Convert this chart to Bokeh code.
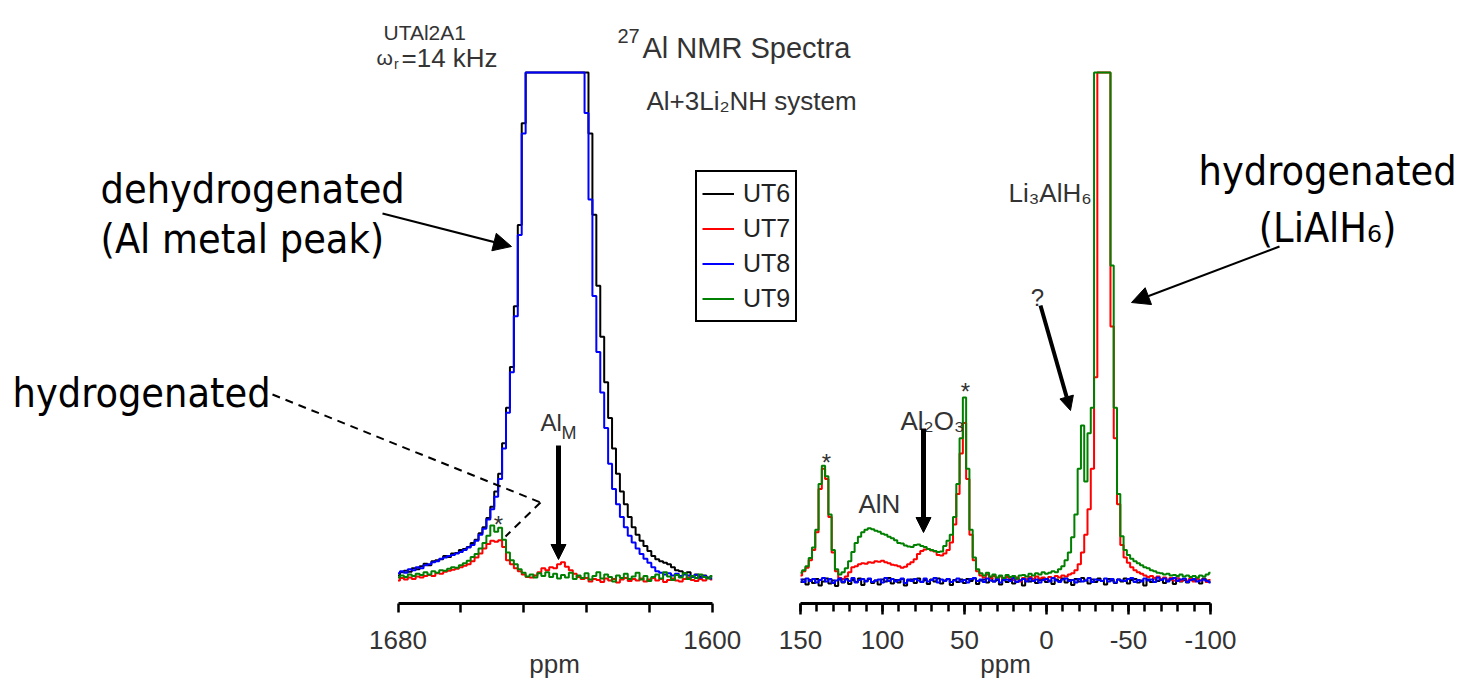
from bokeh.plotting import figure
from bokeh.models import (Range1d, LinearAxis, FixedTicker, Legend, LegendItem,
                          Label, Arrow, NormalHead)
from bokeh.embed import file_html
from bokeh.resources import INLINE

# ---------------- data ----------------
series_names = ["UT6", "UT7", "UT8", "UT9"]
series_colors = ["#000000", "#ff0000", "#0000ff", "#008000"]

# left panel: Al metal region, 1680 -> 1600 ppm
ppm_left = list(range(1680, 1599, -1))
ut6_left = [1.0, 1.6, 1.9, 1.7, 2.4, 2.2, 2.8, 3.3, 3.0, 3.8,
            4.0, 4.2, 4.8, 4.6, 5.3, 5.4, 6.0, 6.2, 6.6, 7.4,
            8.0, 9.3, 10.5, 12.3, 14.5, 17.5, 21.0, 27.0, 34.0, 42.0,
            54.0, 70.0, 90.0, 100, 100, 100, 100, 100, 100, 100,
            100, 100, 100, 100, 100, 100, 100, 100, 100, 88.0,
            72.0, 58.0, 48.0, 39.0, 32.0, 26.0, 21.0, 17.5, 15.0, 12.5,
            10.5, 9.0, 7.8, 6.8, 5.8, 4.8, 4.2, 3.8, 3.5, 3.2,
            2.6, 2.0, 1.8, 1.4, 1.6, 0.9, 1.2, 0.8, 1.0, 0.6,
            0.8]
ut7_left = [0.0, 0.5, 0.2, 0.6, 0.3, 0.8, 0.6, 0.9, 1.1, 0.9,
            1.4, 1.3, 1.7, 1.9, 2.1, 2.3, 2.6, 2.9, 3.2, 3.8,
            4.5, 5.3, 6.3, 7.2, 7.8, 7.6, 7.9, 6.6, 4.0, 3.2,
            2.4, 1.8, 1.2, 0.7, 0.6, 1.0, 1.6, 2.4, 2.0, 2.6,
            2.4, 3.2, 3.6, 2.7, 2.0, 1.3, 0.7, 0.3, 0.5, -0.2,
            0.3, 0.1, -0.3, 0.4, 0.0, 0.3, -0.4, 0.2, 0.5, -0.1,
            0.3, 0.0, 0.4, -0.2, 0.2, 0.5, 0.0, 0.3, -0.3, 0.1,
            0.4, 0.0, -0.2, 0.3, 0.6, 0.1, -0.1, 0.3, 0.0, 0.5,
            0.2]
ut8_left = [1.4, 1.8, 1.5, 2.2, 2.0, 2.6, 2.4, 3.0, 3.2, 3.6,
            3.8, 4.3, 4.5, 4.8, 5.0, 5.3, 5.6, 6.0, 6.5, 7.0,
            7.8, 9.0, 10.2, 12.0, 14.0, 16.5, 20.0, 26.0, 33.0, 41.0,
            52.0, 68.0, 88.0, 100, 100, 100, 100, 100, 100, 100,
            100, 100, 100, 100, 100, 100, 100, 100, 92.0, 75.0,
            56.0, 45.0, 37.0, 30.0, 23.0, 18.0, 15.0, 12.5, 10.5, 8.8,
            7.5, 6.3, 5.2, 4.3, 3.5, 2.6, 1.8, 1.5, 1.2, 1.4,
            1.0, 1.3, 0.9, 1.2, 1.0, 0.7, 1.1, 0.6, 0.9, 0.5,
            0.4]
ut9_left = [0.6, 1.0, 0.7, 1.2, 0.9, 1.3, 1.1, 1.6, 1.2, 1.8,
            1.5, 2.0, 1.9, 2.3, 2.6, 2.5, 3.0, 3.4, 3.9, 4.6,
            5.2, 6.3, 7.4, 8.8, 10.8, 9.6, 10.4, 8.0, 5.5, 4.0,
            3.2, 2.2, 1.5, 0.8, 1.2, 0.6, 1.4, 0.9, 1.6, 0.7,
            1.3, 0.4, 1.1, 0.6, 1.5, 0.3, 1.0, 0.5, 1.4, 0.2,
            0.9, 1.6, 0.4, 1.2, 0.7, -0.2, 1.0, 0.5, 1.3, 0.3,
            0.8, 1.5, 0.2, 0.9, -0.1, 0.7, 1.2, 0.4, 1.6, 0.8,
            0.1, 1.1, 0.6, 1.4, 0.3, 0.9, 0.5, 1.2, 0.7, 0.4,
            0.9]

# right panel: 150 -> -100 ppm
ppm_right = list(range(150, -101, -2))
ut6_right = [-0.3, 0.2, -0.8, 0.1, -0.5, 0.3, -1.0, -0.2, 0.4, -0.6,
             0.0, -1.1, 0.2, -0.4, 0.3, -0.7, 0.1, -0.3, 0.4, -0.9,
             -0.1, 0.3, -0.5, 0.0, -0.8, 0.2, -0.2, 0.5, -0.6, 0.1,
             -0.4, 0.3, -1.0, 0.0, 0.2, -0.5, 0.4, -0.3, 0.1, -0.7,
             0.2, -0.2, 0.4, -0.6, 0.0, 0.3, -0.9, 0.1, -0.3, 0.2,
             -0.5, 0.3, -0.1, 0.4, -0.7, 0.0, 0.2, -0.4, 0.5, -0.2,
             0.1, -0.8, 0.3, -0.3, 0.2, -0.6, 0.4, 0.0, -1.0, 0.2,
             -0.2, 0.3, -0.5, 0.1, 0.4, -0.3, 0.0, -0.7, 0.2, -0.1,
             0.4, -0.4, 0.1, -0.9, 0.3, -0.2, 0.5, 0.0, -0.6, 0.2,
             -0.3, 0.4, -0.1, -0.8, 0.3, 0.0, -0.5, 0.2, -0.2, 0.4,
             -0.6, 0.1, 0.3, -0.4, 0.0, -1.0, 0.2, -0.3, 0.4, -0.1,
             0.3, -0.5, 0.0, 0.2, -0.7, 0.4, -0.2, 0.1, -0.4, 0.3,
             -0.1, 0.2, -0.6, 0.4, 0.0, -0.3]
ut7_right = [1.0, 1.8, 2.5, 4.0, 6.0, 9.5, 18.0, 22.0, 20.0, 12.5,
             5.5, 1.8, 0.5, 0.3, 0.8, 1.6, 2.6, 2.8, 3.2, 3.4,
             3.3, 3.6, 3.5, 3.8, 3.7, 3.9, 3.6, 3.4, 3.1, 3.0,
             2.8, 2.5, 2.7, 3.2, 3.6, 4.2, 5.2, 5.8, 6.1, 6.2,
             5.9, 5.7, 5.0, 4.9, 5.3, 6.0, 7.5, 11.0, 17.0, 25.0,
             31.0, 20.0, 9.0, 4.0, 1.8, 1.0, 0.6, 1.2, 0.4, 0.9,
             0.3, 0.8, 0.2, 0.7, 0.5, 0.1, 0.6, -0.2, 0.5, 0.2,
             0.7, 0.3, 0.8, 0.4, 0.6, 0.2, 0.7, 0.5, 0.9, 0.6,
             1.0, 0.8, 1.2, 1.4, 2.0, 3.2, 5.5, 9.0, 14.0, 22.0,
             40.0, 100, 100, 100, 100, 50.0, 28.0, 15.0, 7.0, 4.5,
             3.5, 2.6, 2.0, 1.6, 1.3, 1.0, 0.7, 0.9, 0.5, 0.8,
             0.3, 0.6, 0.2, 0.5, 0.0, 0.4, -0.1, 0.3, 0.0, 0.4,
             -0.2, 0.3, 0.0, 0.2, -0.3, 0.1]
ut8_right = [0.2, -0.3, 0.4, -0.1, 0.3, -0.4, 0.1, 0.5, -0.2, 0.3,
             -0.5, 0.0, 0.4, -0.3, 0.2, -0.1, 0.5, -0.4, 0.1, 0.3,
             -0.2, 0.4, -0.3, 0.0, 0.2, -0.4, 0.5, -0.1, 0.3, -0.2,
             0.1, 0.4, -0.5, 0.2, -0.1, 0.3, 0.0, -0.3, 0.4, -0.2,
             0.1, 0.5, -0.4, 0.2, -0.1, 0.3, -0.3, 0.0, 0.4, -0.2,
             0.1, -0.4, 0.3, 0.5, -0.1, 0.2, -0.3, 0.4, 0.0, -0.2,
             0.3, -0.4, 0.1, 0.2, -0.1, 0.5, -0.3, 0.0, 0.3, -0.2,
             0.4, -0.1, 0.2, -0.4, 0.1, 0.3, -0.2, 0.5, 0.0, -0.3,
             0.2, 0.4, -0.1, 0.1, -0.4, 0.3, -0.2, 0.0, 0.5, -0.3,
             0.2, 0.1, -0.1, 0.4, -0.2, 0.3, -0.4, 0.2, 0.0, -0.1,
             0.3, 0.5, -0.3, 0.1, -0.2, 0.4, 0.0, 0.2, -0.3, 0.6,
             0.1, 0.4, -0.2, 0.3, 0.5, -0.1, 0.2, 0.4, -0.3, 0.1,
             0.3, -0.2, 0.0, 0.2, -0.1, -0.4]
ut9_right = [1.5, 2.0, 2.8, 4.4, 6.5, 10.0, 19.0, 22.6, 20.5, 13.0,
             6.0, 2.2, 1.2, 1.6, 2.4, 3.8, 5.6, 7.4, 8.6, 9.5,
             10.0, 10.3, 10.1, 9.8, 9.6, 9.2, 9.0, 8.6, 8.3, 7.9,
             7.4, 7.3, 6.9, 6.7, 6.6, 7.0, 7.1, 6.8, 6.6, 6.2,
             6.0, 5.8, 5.6, 5.7, 6.8, 7.8, 9.0, 12.5, 19.0, 28.0,
             36.0, 22.0, 10.0, 4.5, 2.2, 1.4, 1.0, 1.5, 0.8, 1.2,
             0.6, 1.0, 0.5, 1.1, 0.7, 0.9, 0.4, 1.0, 1.1, 0.8,
             1.3, 1.0, 1.4, 1.2, 1.6, 1.3, 1.5, 1.8, 1.6, 2.2,
             2.8, 4.0, 5.5, 8.5, 13.0, 22.0, 30.5, 19.5, 29.0, 34.0,
             100, 100, 100, 100, 100, 62.0, 34.0, 17.0, 8.7, 6.0,
             5.0, 4.3, 3.8, 3.4, 3.0, 2.6, 2.4, 2.0, 1.8, 1.5,
             1.4, 1.2, 1.3, 1.0, 1.1, 0.9, 1.2, 0.8, 1.0, 0.7,
             0.9, 0.6, 1.0, 0.8, 1.2, 1.5]

left_ticks = [1680, 1600]
left_minor = [1664, 1648, 1632, 1616]
right_ticks = [150, 100, 50, 0, -50, -100]
right_minor = list(range(150, -101, -10))
right_tick_labels = {150: "150", 100: "100", 50: "50", 0: "0", -50: "-50", -100: "-100"}

SMALL = "'Liberation Sans', Arial, sans-serif"
BIG = "'DejaVu Sans Condensed', 'DejaVu Sans', sans-serif"

# ---------------- figure (data coords of the main ranges = page pixels) ----------------
W, H = 1456, 680
p = figure(width=W, height=H, x_range=Range1d(0, W), y_range=Range1d(H, 0),
           output_backend="svg", toolbar_location=None,
           x_axis_location=None, y_axis_location=None, min_border=0,
           outline_line_color=None)
p.grid.visible = False
p.extra_x_ranges = {"L": Range1d(1781.21, 1410.49), "R": Range1d(637.80, -250.0)}
p.extra_y_ranges = {"I": Range1d(-19.69, 114.17)}

left_data = [ut6_left, ut7_left, ut8_left, ut9_left]
right_data = [ut6_right, ut7_right, ut8_right, ut9_right]
left_renderers = []
for name, color, yl, yr in zip(series_names, series_colors, left_data, right_data):
    rl = p.step(ppm_left, yl, mode="center", x_range_name="L", y_range_name="I",
                line_color=color, line_width=2)
    p.step(ppm_right, yr, mode="center", x_range_name="R", y_range_name="I",
           line_color=color, line_width=2)
    left_renderers.append(rl)


def style_axis(ax, tick_out, minor_out, standoff):
    ax.axis_line_width = 3
    ax.axis_line_color = "black"
    ax.major_tick_line_width = 2.5
    ax.minor_tick_line_width = 2.5
    ax.major_tick_in = 0
    ax.minor_tick_in = 0
    ax.major_tick_out = tick_out
    ax.minor_tick_out = minor_out
    ax.major_label_text_font = SMALL
    ax.major_label_text_font_size = "26px"
    ax.major_label_text_color = "#333333"
    ax.major_label_standoff = standoff


axL = LinearAxis(x_range_name="L", fixed_location=603, bounds=(1600, 1680),
                 ticker=FixedTicker(ticks=left_ticks, minor_ticks=left_minor))
style_axis(axL, 9, 9, 18)
p.add_layout(axL, "below")

axR = LinearAxis(x_range_name="R", fixed_location=603, bounds=(-100, 150),
                 ticker=FixedTicker(ticks=right_ticks, minor_ticks=right_minor),
                 major_label_overrides=right_tick_labels)
style_axis(axR, 11, 8, 16)
p.add_layout(axR, "below")

# legend
legend = Legend(items=[LegendItem(label=n, renderers=[r]) for n, r in zip(series_names, left_renderers)],
                location=(695, H - 322), margin=0, padding=5, spacing=2,
                glyph_width=32, glyph_height=33, label_height=33, label_standoff=9,
                border_line_color="black", border_line_width=2, border_line_alpha=1,
                label_text_font=SMALL, label_text_font_size="25px", label_text_color="#222222",
                background_fill_color="white", background_fill_alpha=1)
p.add_layout(legend)


def lab(text, x, y, size, font=SMALL, color="#333333", align="left"):
    p.add_layout(Label(x=x, y=y, text=text, text_font=font, text_font_size=f"{size}px",
                       text_color=color, text_align=align, text_baseline="alphabetic"))


# chart texts
lab("UTAl2A1", 383, 32, 21)
lab("ω", 376, 57, 21)
lab("r", 393.5, 63, 14)
lab("=14 kHz", 401, 57, 26)
lab("27", 617, 35, 20)
lab("Al NMR Spectra", 642, 47, 29)
lab("Al+3Li₂NH system", 646, 100, 26)
lab("Li₃AlH₆", 1008, 192, 26)
lab("AlN", 858, 503, 26)
lab("Al₂O₃", 900, 420, 26)
lab("Al", 540, 422, 24)
lab("M", 561, 432, 18)
lab("*", 498, 524, 24, align="center")
lab("*", 826, 462, 24, align="center")
lab("*", 965, 391, 24, align="center")
lab("?", 1037, 297, 24, align="center")
lab("ppm", 554, 663, 26, align="center")
lab("ppm", 1005, 663, 26, align="center")

# slide annotations
lab("dehydrogenated", 100, 188, 41, font=BIG, color="black")
lab("(Al metal peak)", 100, 238, 41, font=BIG, color="black")
lab("hydrogenated", 12, 392, 41, font=BIG, color="black")
lab("hydrogenated", 1198, 170, 41, font=BIG, color="black")
lab("(LiAlH₆)", 1327, 227, 41, font=BIG, color="black", align="center")


# arrows
def arrow(x0, y0, x1, y1, lw, size):
    p.add_layout(Arrow(end=NormalHead(size=size, fill_color="black", line_color="black"),
                       x_start=x0, y_start=y0, x_end=x1, y_end=y1,
                       line_width=lw, line_color="black"))


arrow(382, 213, 511, 246, 2, 18)
arrow(1279, 246, 1131, 302, 2, 18)
arrow(558, 445, 558, 559, 5, 15)
arrow(923, 428, 923, 532, 5, 15)
arrow(1040, 305, 1070, 410, 4, 14)

for (x0, y0, x1, y1) in [(272, 394, 540, 502), (540, 502, 505, 536)]:
    p.add_layout(Arrow(start=None, end=None, x_start=x0, y_start=y0, x_end=x1, y_end=y1,
                       line_width=2, line_color="black", line_dash="8 6"))

open("out.html", "w").write(file_html(p, INLINE))
